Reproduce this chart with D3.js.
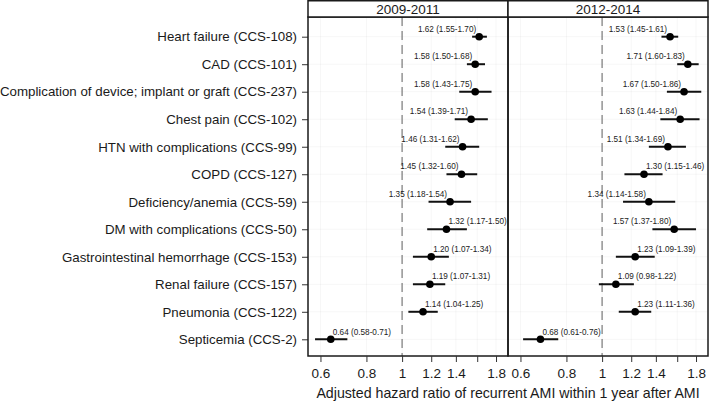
<!DOCTYPE html>
<html><head><meta charset="utf-8">
<script src="https://cdn.jsdelivr.net/npm/d3@7/dist/d3.min.js"></script>
<style>
body{margin:0;background:#fff;}
svg{font-family:"Liberation Sans",Arial,sans-serif;}
</style></head>
<body><svg id="c" width="709" height="405"></svg>
<script>
const categories = ["Heart failure (CCS-108)","CAD (CCS-101)","Complication of device; implant or graft (CCS-237)","Chest pain (CCS-102)","HTN with complications (CCS-99)","COPD (CCS-127)","Deficiency/anemia (CCS-59)","DM with complications (CCS-50)","Gastrointestinal hemorrhage (CCS-153)","Renal failure (CCS-157)","Pneumonia (CCS-122)","Septicemia (CCS-2)"];
const panels = ["2009-2011","2012-2014"];
const hr2009 = [1.62,1.58,1.58,1.54,1.46,1.45,1.35,1.32,1.20,1.19,1.14,0.64];
const lo2009 = [1.55,1.50,1.43,1.39,1.31,1.32,1.18,1.17,1.07,1.07,1.04,0.58];
const hi2009 = [1.70,1.68,1.75,1.71,1.62,1.60,1.54,1.50,1.34,1.31,1.25,0.71];
const hr2012 = [1.53,1.71,1.67,1.63,1.51,1.30,1.34,1.57,1.23,1.09,1.23,0.68];
const lo2012 = [1.45,1.60,1.50,1.44,1.34,1.15,1.14,1.37,1.09,0.98,1.11,0.61];
const hi2012 = [1.61,1.83,1.86,1.84,1.69,1.46,1.58,1.80,1.39,1.22,1.36,0.76];
const xTicks = [0.6,0.8,1,1.2,1.4,1.6,1.8];
const xTickLabels = ["0.6","0.8","1","1.2","1.4","","1.8"];
const xDomain = [0.555,1.94];
const refValue = 1;
const xTitle = "Adjusted hazard ratio of recurrent AMI within 1 year after AMI";

const series = [
  {hr:hr2009, lo:lo2009, hi:hi2009},
  {hr:hr2012, lo:lo2012, hi:hi2012}
];

const svg = d3.select("#c");
const pTop = 17, pBottom = 356, pw = 200, left0 = 308, stripTop = 0.75;
const y = d3.scalePoint().domain(categories).range([pTop+19.7, pBottom-16.7]);

// y axis
const yAxis = svg.append("g").attr("transform",`translate(${left0},0)`)
  .call(d3.axisLeft(y).tickSize(6).tickPadding(5));
yAxis.select(".domain").remove();
yAxis.selectAll("text").attr("font-size","13.3px").attr("fill","#1a1a1a").attr("font-family","Liberation Sans, Arial, sans-serif");
yAxis.selectAll("line").attr("stroke","#333");

panels.forEach((p,pi)=>{
  const x0 = left0 + pi*pw;
  const x = d3.scaleLog().domain(xDomain).range([x0, x0+pw]);
  const g = svg.append("g");
  // faint grid
  g.selectAll(".gv").data(xTicks).join("line")
    .attr("x1",d=>x(d)).attr("x2",d=>x(d)).attr("y1",pTop).attr("y2",pBottom)
    .attr("stroke","rgba(0,0,0,0.035)");
  g.selectAll(".gh").data(categories).join("line")
    .attr("x1",x0).attr("x2",x0+pw).attr("y1",d=>y(d)).attr("y2",d=>y(d))
    .attr("stroke","rgba(0,0,0,0.035)");
  // reference line
  g.append("line").attr("x1",x(refValue)).attr("x2",x(refValue)).attr("y1",pTop).attr("y2",pBottom)
    .attr("stroke","#7a7a7a").attr("stroke-width",1.2).attr("stroke-dasharray","9,5");
  const s = series[pi];
  const rows = categories.map((c,i)=>({c, hr:s.hr[i], lo:s.lo[i], hi:s.hi[i]}));
  g.selectAll(".ci").data(rows).join("line")
    .attr("x1",d=>x(d.lo)).attr("x2",d=>x(d.hi)).attr("y1",d=>y(d.c)).attr("y2",d=>y(d.c))
    .attr("stroke","#111").attr("stroke-width",2);
  g.selectAll(".pt").data(rows).join("circle")
    .attr("cx",d=>x(d.hr)).attr("cy",d=>y(d.c)).attr("r",3.8).attr("fill","#000");
  g.selectAll(".lbl").data(rows).join("text")
    .attr("font-size","8.2px").attr("fill","#222")
    .attr("y",d=>y(d.c)-4.8)
    .text(d=>`${d.hr.toFixed(2)} (${d.lo.toFixed(2)}-${d.hi.toFixed(2)})`)
    .each(function(d){
      const w = this.getComputedTextLength();
      const px = x(d.hr);
      if (px + w <= x0+pw-1) {
        d3.select(this).attr("x",px+2).attr("text-anchor","start");
      } else {
        d3.select(this).attr("x",px-3).attr("text-anchor","end");
      }
    });
  // panel border
  g.append("rect").attr("x",x0).attr("y",pTop).attr("width",pw).attr("height",pBottom-pTop)
    .attr("fill","none").attr("stroke","#1a1a1a").attr("stroke-width",1.5);
  // strip
  g.append("rect").attr("x",x0).attr("y",stripTop).attr("width",pw).attr("height",pTop-stripTop)
    .attr("fill","#fff").attr("stroke","#1a1a1a").attr("stroke-width",1.5);
  g.append("text").attr("x",x0+pw/2).attr("y",14).attr("text-anchor","middle")
    .attr("font-size","13.5px").attr("fill","#1a1a1a").text(p);
  // x axis
  const xa = svg.append("g").attr("transform",`translate(0,${pBottom})`)
    .call(d3.axisBottom(x).tickValues(xTicks).tickFormat((d,i)=>xTickLabels[i]).tickSize(6).tickPadding(6));
  xa.select(".domain").remove();
  xa.selectAll("text").attr("font-size","13.5px").attr("fill","#1a1a1a").attr("font-family","Liberation Sans, Arial, sans-serif");
  xa.selectAll("line").attr("stroke","#333");
});

svg.append("text").attr("x",left0+pw).attr("y",398).attr("text-anchor","middle")
  .attr("font-size","14.2px").attr("fill","#1a1a1a").text(xTitle);
</script></body></html>
